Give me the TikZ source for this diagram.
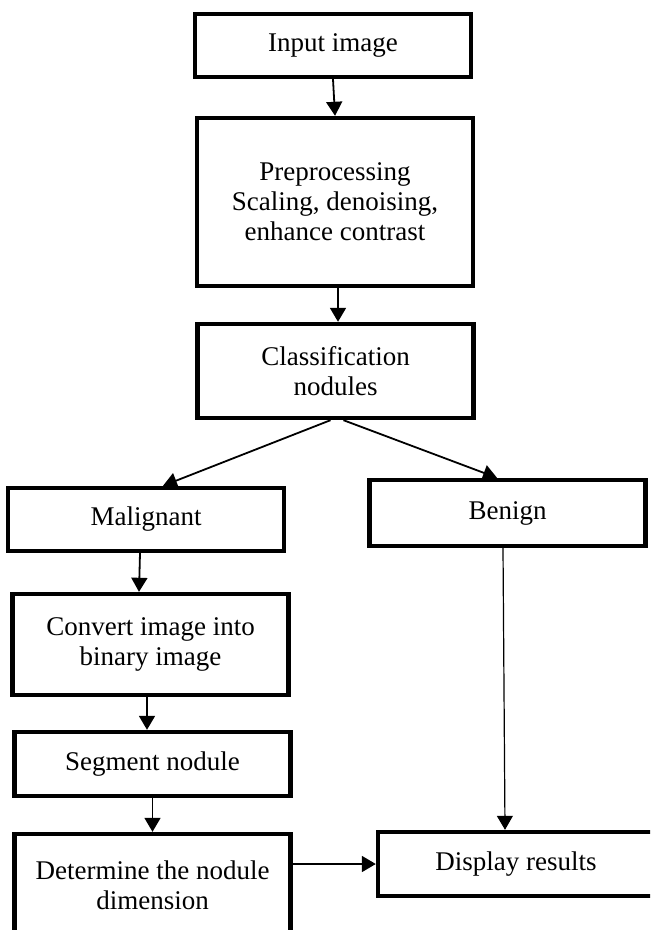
\documentclass[tikz,border=0pt]{standalone}
\usepackage{fontspec}
\setmainfont{Liberation Serif}
\usepackage{tikz}
\usetikzlibrary{arrows.meta}
\tikzset{box/.style={draw, line width=2.2pt, align=center, inner sep=0pt,
  minimum width=138pt, font=\fontsize{13.5}{15}\selectfont}}
\tikzset{arr/.style={-{Triangle[width=8pt,length=7pt]}, line width=0.9pt}}

\begin{document}
\begin{tikzpicture}[x=0.5pt, y=-0.5pt]

\clip (0,0) rectangle (650,930);

\node[box, minimum height=31.5pt] (input) at (333,45.5) {Input image};
\node[box, minimum height=84pt] (pre) at (335,202) {Preprocessing\\Scaling, denoising,\\enhance contrast};
\node[box, minimum height=47pt] (cls) at (335.5,371) {Classification\\nodules};
\node[box, minimum height=31.5pt] (mal) at (146,519.5) {Malignant};
\node[box, minimum height=33pt] (ben) at (507.5,513) {Benign};
\node[box, minimum height=50.5pt] (conv) at (150.5,644.5) {Convert image into\\binary image};
\node[box, minimum height=32pt] (seg) at (152.5,764) {Segment nodule};
\node[box, minimum height=51pt] (det) at (152.5,885) {Determine the nodule\\dimension};
\node[box, minimum height=32pt] (disp) at (516,864) {Display results};

\draw[arr] (input.south) -- (pre.north);
\draw[arr] ([xshift=1.5pt]pre.south) -- ([xshift=1.25pt]cls.north);
\draw[arr] ([xshift=-2.5pt]cls.south) -- ([xshift=8.5pt]mal.north);
\draw[arr] ([xshift=4pt]cls.south) -- ([xshift=-5.25pt]ben.north);
\draw[arr] ([xshift=-3pt]mal.south) -- ([xshift=-5.75pt]conv.north);
\draw[arr] ([xshift=-1.75pt]conv.south) -- ([xshift=-2.75pt]seg.north);
\draw[arr] (seg.south) -- (det.north);
\draw[arr] (det.east |- disp.west) -- (disp.west);
\draw[arr, line width=0.6pt] ([xshift=-2.25pt]ben.south) -- ([xshift=-5.5pt]disp.north);

\end{tikzpicture}
\end{document}
